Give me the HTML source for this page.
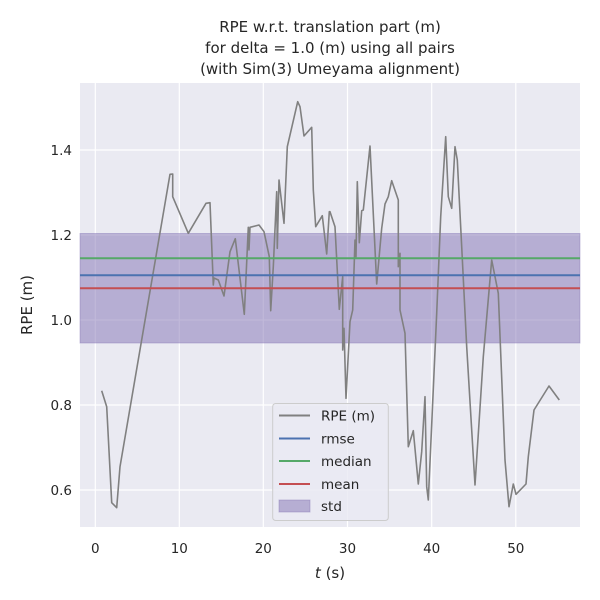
<!DOCTYPE html>
<html><head><meta charset="utf-8"><style>body{margin:0;background:#fff}svg{display:block}</style></head><body>
<svg width="600" height="600" xmlns="http://www.w3.org/2000/svg" font-family="DejaVu Sans, Liberation Sans, sans-serif">
<rect x="80" y="83" width="500" height="444" fill="#eaeaf2"/>
<g stroke="#fff" stroke-width="1.2">
<line x1="95.3" y1="83" x2="95.3" y2="527"/><line x1="179.3" y1="83" x2="179.3" y2="527"/><line x1="263.3" y1="83" x2="263.3" y2="527"/><line x1="347.5" y1="83" x2="347.5" y2="527"/><line x1="431.7" y1="83" x2="431.7" y2="527"/><line x1="515.8" y1="83" x2="515.8" y2="527"/>
<line x1="80" y1="150" x2="580" y2="150"/><line x1="80" y1="235" x2="580" y2="235"/><line x1="80" y1="320" x2="580" y2="320"/><line x1="80" y1="405" x2="580" y2="405"/><line x1="80" y1="490" x2="580" y2="490"/>
</g>
<rect x="80" y="233.5" width="500" height="109.5" fill="#8172b3" fill-opacity="0.5" stroke="#8172b3" stroke-opacity="0.4"/>
<polyline fill="none" stroke="#808080" stroke-width="1.6" stroke-linejoin="round" points="101.7,390.7 106.7,406.7 111.7,502.7 116.7,507.7 120,466.7 170,174.3 172.7,174 172.7,196.7 188.3,233.3 206,203.3 210,202.7 213.3,285 214,278 218.3,280 224,296 230,251.7 235.3,238.7 244.3,314.3 248.3,227.3 249,250 250,227.3 259,225 264,231.7 269.3,256.7 270.7,310.7 273.3,266.7 276.7,191.7 277.3,248.3 279,180 284,223.3 287.3,146.7 297.7,101.7 300,106.7 304,136 311.7,127.3 313.3,190 315.7,226.7 322.3,215.7 326.7,254 329.3,211.7 330,211.7 335,226.7 339.3,309.3 342.7,276.7 342.7,350 344,328.3 346,398.3 350,321.7 352.7,310 355,240 356,256.7 357.3,181.7 359.3,242.7 361.7,210.7 363.3,210 370,146 376.7,284 381.7,228.3 385,204 388.3,196.7 391.7,180.7 398.3,200 398.3,266.7 400,253.3 400,310 405,333.3 408.3,446.7 413.3,430.7 418.3,484 421.7,451.7 425,396.7 426.7,486.7 428.3,500 436.7,313.3 440.7,216.7 445.7,136.7 448.3,196.7 451.7,208.3 455,146.7 457.3,160 461.7,246.7 466.7,346.7 475,485 483.3,356.7 491.7,260 498.3,293.3 505,460 509,506.7 513.3,484 516,494.3 526,484 528.3,456.7 534,410 549,386 559.3,400"/>
<line x1="80" y1="275.3" x2="580" y2="275.3" stroke="#4c72b0" stroke-width="2"/>
<line x1="80" y1="258.3" x2="580" y2="258.3" stroke="#55a868" stroke-width="2"/>
<line x1="80" y1="288.3" x2="580" y2="288.3" stroke="#c44e52" stroke-width="2"/>
<rect x="272.7" y="403.5" width="115.6" height="117" rx="3" fill="#eaeaf2" fill-opacity="0.8" stroke="#ccc"/>
<g font-size="13.5" fill="#262626">
<line x1="279" y1="415.5" x2="310" y2="415.5" stroke="#808080" stroke-width="2"/><text x="321" y="420.5">RPE (m)</text>
<line x1="279" y1="438.5" x2="310" y2="438.5" stroke="#4c72b0" stroke-width="2"/><text x="321" y="443.5">rmse</text>
<line x1="279" y1="461" x2="310" y2="461" stroke="#55a868" stroke-width="2"/><text x="321" y="466">median</text>
<line x1="279" y1="484" x2="310" y2="484" stroke="#c44e52" stroke-width="2"/><text x="321" y="489">mean</text>
<rect x="279" y="500" width="31" height="12" fill="#8172b3" fill-opacity="0.5" stroke="#8172b3" stroke-opacity="0.4"/><text x="321" y="511">std</text>
</g>
<g font-size="13.5" fill="#262626" text-anchor="middle">
<text x="95.3" y="553">0</text><text x="179.3" y="553">10</text><text x="263.3" y="553">20</text><text x="347.5" y="553">30</text><text x="431.7" y="553">40</text><text x="515.8" y="553">50</text>
<text x="330" y="578" font-size="15"><tspan font-style="italic">t</tspan> (s)</text>
<text x="330" y="32" font-size="15">RPE w.r.t. translation part (m)</text>
<text x="330" y="53" font-size="15">for delta = 1.0 (m) using all pairs</text>
<text x="330" y="74" font-size="15">(with Sim(3) Umeyama alignment)</text>
</g>
<g font-size="13.5" fill="#262626" text-anchor="end">
<text x="72" y="155">1.4</text><text x="72" y="240">1.2</text><text x="72" y="325">1.0</text><text x="72" y="410">0.8</text><text x="72" y="495">0.6</text>
</g>
<text transform="translate(32,305) rotate(-90)" font-size="15" fill="#262626" text-anchor="middle">RPE (m)</text>
</svg>
</body></html>
